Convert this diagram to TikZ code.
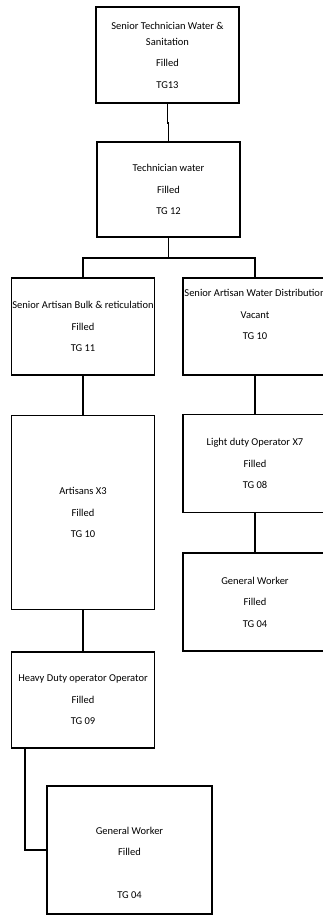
\documentclass[tikz,border=0pt]{standalone}
\usepackage{fontspec}
\setmainfont{Carlito}
\usetikzlibrary{positioning, calc}

\begin{document}
\begin{tikzpicture}[
  x=1pt, y=1pt,
  node distance = 39pt,
  box/.style    = {rectangle, draw=black, line width=1.5pt, fill=white,
                   minimum width=143pt, minimum height=97pt, inner xsep=0pt,
                   align=center, font=\fontsize{10.5}{21.5}\selectfont},
  link/.style   = {line width=1.5pt, draw=black}
]
\useasboundingbox (0,0) rectangle (322,-916);

\node[box, minimum height=96pt]  (stws) at (167.5,-55) {Senior Technician Water \&\\[-5.5pt]Sanitation\\Filled\\TG13};
\node[box, minimum height=95pt]  (tw)   at (168.5,-189.5) {Technician water\\Filled\\TG 12};

\node[box]                        (sabr) at (83,-326.5)  {Senior Artisan Bulk \& reticulation\\Filled\\TG 11};
\node[box, minimum height=194pt] (art)  [below=of sabr] {Artisans X3\\Filled\\TG 10};
\node[box, minimum height=96pt]  (hdo)  [below=41pt of art] {Heavy Duty operator Operator\\Filled\\TG 09};
\node[box, minimum width=165pt, minimum height=128pt, text height=98pt]
                                  (gwb)  at (129.5,-850) {General Worker\\Filled\\[21.5pt]TG 04};

\node[box, minimum width=144pt, text depth=24pt] (sawd) at (255,-326.5) {Senior Artisan Water Distribution\\Vacant\\TG 10};
\node[box, minimum width=144pt, minimum height=98pt] (ldo) [below=38pt of sawd] {Light duty Operator X7\\Filled\\TG 08};
\node[box, minimum width=144pt, minimum height=98pt] (gwr) [below=of ldo] {General Worker\\Filled\\TG 04};

\draw[link] (stws.south) -- ++(0,-19) -| (tw.north);
\draw[link] (tw.south) -- ++(0,-20) coordinate (split);
\draw[link] (split) -| (sabr.north);
\draw[link] (split) -| (sawd.north);
\draw[link] (sabr) -- (art);
\draw[link] (art) -- (hdo);
\draw[link] ([xshift=14pt]hdo.south west) |- (gwb.west);
\draw[link] (sawd) -- (ldo);
\draw[link] (ldo) -- (gwr);

\end{tikzpicture}
\end{document}
